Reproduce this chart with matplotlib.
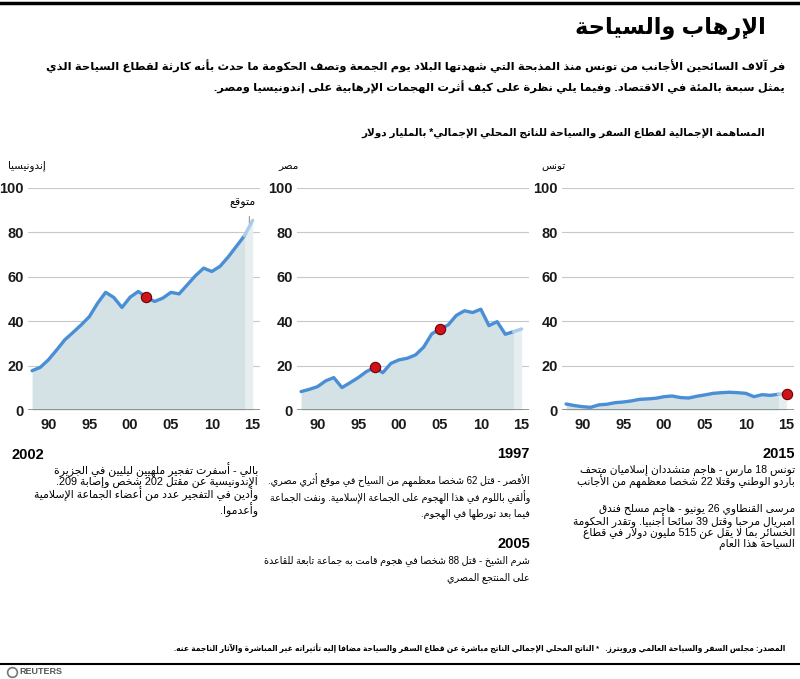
import re
import matplotlib
matplotlib.use('Agg')
import matplotlib.pyplot as plt
from matplotlib.lines import Line2D

# ---- data ----
years = list(range(1988, 2016))
indonesia = [17.7, 19.2, 22.6, 27.0, 31.6, 34.9, 38.3, 42.0, 48.0, 53.0,
             50.7, 46.2, 50.8, 53.4, 50.7, 48.9, 50.4, 53.0, 52.3, 56.4,
             60.5, 63.9, 62.4, 64.7, 68.9, 73.7, 78.5, 85.4]
egypt = [8.3, 9.3, 10.5, 13.1, 14.6, 10.1, 12.3, 14.6, 17.3, 19.2,
         16.8, 21.0, 22.6, 23.3, 24.8, 28.3, 34.3, 36.5, 38.3, 42.6,
         44.7, 43.9, 45.4, 38.0, 39.8, 34.1, 35.3, 36.5]
tunisia = [2.7, 2.0, 1.5, 1.2, 2.3, 2.6, 3.3, 3.6, 4.1, 4.8,
           5.0, 5.3, 6.0, 6.3, 5.6, 5.4, 6.2, 6.8, 7.5, 7.8,
           8.0, 7.8, 7.5, 6.0, 6.9, 6.6, 7.1, 7.4]
events_indonesia = [2002]
events_egypt = [1997, 2005]
events_tunisia = [2015]
forecast_start = 2014

yticks = [0, 20, 40, 60, 80, 100]
xticks = [1990, 1995, 2000, 2005, 2010, 2015]
xlabels = ['90', '95', '00', '05', '10', '15']

title = 'الإرهاب والسياحة'
subtitle = ['فر آلاف السائحين الأجانب من تونس منذ المذبحة التي شهدتها البلاد يوم الجمعة وتصف الحكومة ما حدث بأنه كارثة لقطاع السياحة الذي',
            'يمثل سبعة بالمئة في الاقتصاد. وفيما يلي نظرة على كيف أثرت الهجمات الإرهابية على إندونيسيا ومصر.']
subhead = 'المساهمة الإجمالية لقطاع السفر والسياحة للناتج المحلي الإجمالي* بالمليار دولار'
names = ['إندونيسيا', 'مصر', 'تونس']
forecast_label = 'متوقع'

note_indonesia = ['بالي - أسفرت تفجير ملهيين ليليين في الجزيرة',
                  'الإندونيسية عن مقتل 202 شخص وإصابة 209.',
                  'وأدين في التفجير عدد من أعضاء الجماعة الإسلامية',
                  'وأعدموا.']
note_egypt_1997 = ['الأقصر - قتل 62 شخصا معظمهم من السياح في موقع أثري مصري.',
                   'وألقي باللوم في هذا الهجوم على الجماعة الإسلامية. ونفت الجماعة',
                   'فيما بعد تورطها في الهجوم.']
note_egypt_2005 = ['شرم الشيخ - قتل 88 شخصا في هجوم قامت به جماعة تابعة للقاعدة',
                   'على المنتجع المصري']
note_tunisia = ['تونس 18 مارس - هاجم متشددان إسلاميان متحف',
                'باردو الوطني وقتلا 22 شخصا معظمهم من الأجانب',
                '',
                'مرسى القنطاوي 26 يونيو - هاجم مسلح فندق',
                'امبريال مرحبا وقتل 39 سائحا أجنبيا. وتقدر الحكومة',
                'الخسائر بما لا يقل عن 515 مليون دولار في قطاع',
                'السياحة هذا العام']
footer = 'المصدر: مجلس السفر والسياحة العالمي ورويترز.   * الناتج المحلي الإجمالي الناتج مباشرة عن قطاع السفر والسياحة مضافا إليه تأثيراته غير المباشرة والآثار الناجمة عنه.'

# ---- simple arabic shaping (presentation forms) + right-to-left order ----
FORMS = {'ء': (0xFE80, 1)}
for ch, base in zip('آأؤإاةدذرزوى', [0xFE81, 0xFE83, 0xFE85, 0xFE87, 0xFE8D, 0xFE93,
                                      0xFEA9, 0xFEAB, 0xFEAD, 0xFEAF, 0xFEED, 0xFEEF]):
    FORMS[ch] = (base, 2)
for ch, base in zip('ئبتثجحخسشصضطظعغفقكلمنهي',
                    [0xFE89, 0xFE8F, 0xFE95, 0xFE99, 0xFE9D, 0xFEA1, 0xFEA5, 0xFEB1,
                     0xFEB5, 0xFEB9, 0xFEBD, 0xFEC1, 0xFEC5, 0xFEC9, 0xFECD, 0xFED1,
                     0xFED5, 0xFED9, 0xFEDD, 0xFEE1, 0xFEE5, 0xFEE9, 0xFEF1]):
    FORMS[ch] = (base, 4)
LAMALEF = {'آ': 0xFEF5, 'أ': 0xFEF7, 'إ': 0xFEF9, 'ا': 0xFEFB}
MIRROR = str.maketrans('()[]', ')(][')


def joins_next(c):
    return c in FORMS and FORMS[c][1] == 4


def ar(s):
    out = []
    i = 0
    while i < len(s):
        c = s[i]
        pj = i > 0 and joins_next(s[i - 1])
        if c == 'ل' and i + 1 < len(s) and s[i + 1] in LAMALEF:
            out.append(chr(LAMALEF[s[i + 1]] + int(pj)))
            i += 2
            continue
        if c in FORMS:
            base, n = FORMS[c]
            nj = n == 4 and i + 1 < len(s) and s[i + 1] in FORMS
            if n == 1:
                f = 0
            elif pj and nj:
                f = 3
            elif pj:
                f = 1
            elif nj:
                f = 2
            else:
                f = 0
            out.append(chr(base + f))
        else:
            out.append(c)
        i += 1
    parts = re.split(r'([0-9A-Za-z]+)', ''.join(out))
    vis = []
    for p in reversed(parts):
        if re.fullmatch(r'[0-9A-Za-z]+', p):
            vis.append(p)
        else:
            vis.append(p[::-1].translate(MIRROR))
    return ''.join(vis)


plt.rcParams['font.family'] = ['Liberation Sans', 'DejaVu Sans']

W, H = 800, 679
fig = plt.figure(figsize=(W / 100, H / 100), dpi=100)
renderer = fig.canvas.get_renderer()


def fx(x):
    return x / W


def fy(y):
    return 1 - y / H


def txt(x, y, s, size, weight='normal', ha='right', color='black'):
    return fig.text(fx(x), fy(y), ar(s), ha=ha, va='center', fontsize=size,
                    fontweight=weight, color=color)


def fit_size(s, width, weight='normal'):
    # font size that makes the line as wide as in the reference
    t = fig.text(0, 0, ar(s), fontsize=10, fontweight=weight)
    w = t.get_window_extent(renderer).width
    t.remove()
    return 10 * width / w


# top rule and headings
fig.add_artist(Line2D([0, 1], [fy(2.5)] * 2, color='black', lw=2.5))
txt(766, 29, title, fit_size(title, 192, 'bold'), 'bold')
sub_size = fit_size(subtitle[0], 735, 'bold')
txt(785, 66, subtitle[0], sub_size, 'bold')
txt(785, 87, subtitle[1], sub_size, 'bold')
txt(765, 133, subhead, fit_size(subhead, 408, 'bold'), 'bold')

# ---- panels ----
line_c = '#4a8fd6'
fc_line_c = '#abcbea'
fill_c = '#d4e2e6'
fc_fill_c = '#e6eef0'
panels = [(28, indonesia, events_indonesia, names[0], 46),
          (297, egypt, events_egypt, names[1], 299),
          (562, tunisia, events_tunisia, names[2], 566)]

for left, vals, events, name, name_x in panels:
    ax = fig.add_axes([fx(left), fy(410), 232 / W, 222 / H])
    k = years.index(forecast_start)
    ax.fill_between(years[:k + 1], vals[:k + 1], color=fill_c, lw=0)
    ax.fill_between(years[k:], vals[k:], color=fc_fill_c, lw=0)
    for t in yticks[1:]:
        ax.axhline(t, color='#c8c8c8', lw=0.8, zorder=0)
    ax.axhline(0, color='#8a8a8a', lw=1.3, zorder=3)
    ax.plot(years[:k + 1], vals[:k + 1], color=line_c, lw=2.4,
            solid_capstyle='round', solid_joinstyle='round', zorder=4)
    ax.plot(years[k:], vals[k:], color=fc_line_c, lw=2.4,
            solid_capstyle='round', zorder=4)
    ev_vals = [vals[years.index(e)] for e in events]
    ax.scatter(events, ev_vals, s=55, color='#d0121b', edgecolor='#6a0000',
               lw=0.8, zorder=5)
    ax.set_xlim(1987.5, 2015.9)
    ax.set_ylim(0, 100)
    ax.set_yticks(yticks)
    ax.set_xticks(xticks)
    ax.set_xticklabels(xlabels)
    ax.tick_params(length=0, labelsize=10.5, pad=3)
    ax.tick_params(axis='x', pad=6)
    for lab in ax.get_xticklabels() + ax.get_yticklabels():
        lab.set_fontweight('bold')
        lab.set_color('#1a1a1a')
    for sp in ax.spines.values():
        sp.set_visible(False)
    ax.patch.set_alpha(0)
    txt(name_x, 166, name, 7.5)
    if vals is indonesia:
        ax.annotate('', xy=(2014.6, 82.5), xytext=(2014.6, 88.5),
                    arrowprops=dict(arrowstyle='-', color='#999999', lw=0.8))
        txt(256, 203, forecast_label, 8)

# ---- notes ----
txt(12, 455, '2002', 10.5, 'bold', ha='left')
s_ind = fit_size(note_indonesia[0], 206)
ind_y = [470, 482, 494, 510]
for s, y in zip(note_indonesia, ind_y):
    txt(258, y, s, s_ind)

s_eg = fit_size(note_egypt_1997[0], 263)
txt(530, 454, '1997', 10.5, 'bold')
for i, s in enumerate(note_egypt_1997):
    txt(530, 480 + 16.7 * i, s, s_eg)
txt(530, 544, '2005', 10.5, 'bold')
for i, s in enumerate(note_egypt_2005):
    txt(530, 561 + 16.7 * i, s, s_eg)

s_tun = fit_size(note_tunisia[0], 214)
tun_y = [470, 482, 0, 509, 521, 533, 545]
txt(795, 454, '2015', 10.5, 'bold')
for s, y in zip(note_tunisia, tun_y):
    if s:
        txt(795, y, s, s_tun)

# ---- footer ----
txt(785, 648, footer, fit_size(footer, 610, 'bold'), 'bold')
fig.add_artist(Line2D([0, 1], [fy(664)] * 2, color='black', lw=1.5))
fig.add_artist(Line2D([fx(12)], [fy(672)], marker='o', ms=7, mfc='white',
                      mec='#777777', mew=1.2))
fig.text(fx(19), fy(672), 'REUTERS', ha='left', va='center', fontsize=6.5,
         color='#555555', fontweight='bold')

fig.savefig('out.png', dpi=100)
